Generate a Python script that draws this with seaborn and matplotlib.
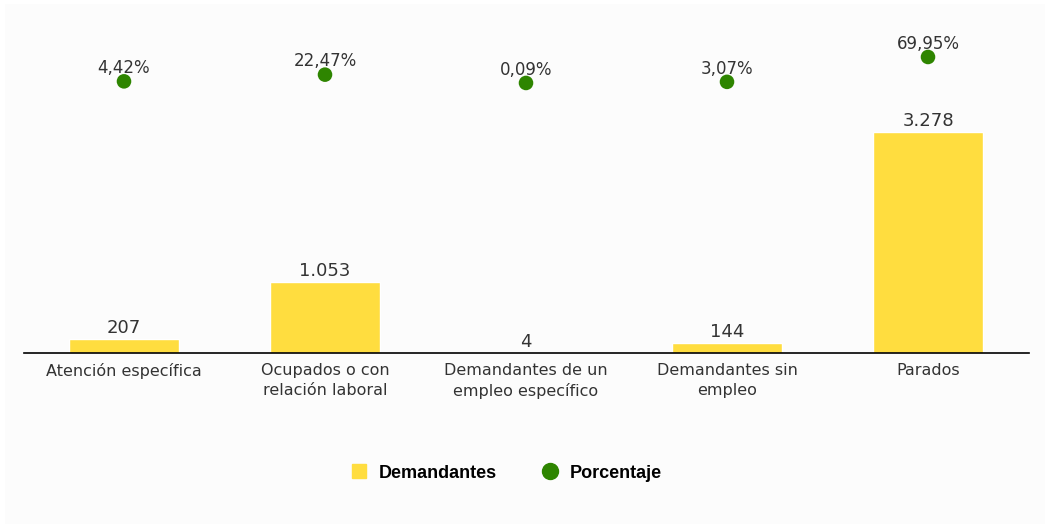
import matplotlib
matplotlib.use("Agg")
import matplotlib.pyplot as plt
from matplotlib.lines import Line2D
from matplotlib.patches import Rectangle
import seaborn as sns

# data
categorias = ["Atención específica", "Ocupados o con\nrelación laboral",
              "Demandantes de un\nempleo específico", "Demandantes sin\nempleo", "Parados"]
demandantes = [207, 1053, 4, 144, 3278]
porcentaje = [4.42, 22.47, 0.09, 3.07, 69.95]

amarillo = "#FFDD3F"
verde = "#2E8500"
gris = "#333333"

sns.set_style("white")
plt.rcParams["font.family"] = ["DejaVu Sans"]

fig = plt.figure(figsize=(10.5, 5.25), dpi=100, facecolor="white")
fig.patches.append(Rectangle((5 / 1050, 1 / 525), 1040 / 1050, 520 / 525,
                             transform=fig.transFigure, facecolor="#FCFCFC",
                             edgecolor="none", zorder=-10))
ax = fig.add_axes([23.5 / 1050, 1 - 353 / 525, 1005 / 1050, 323 / 525])
ax.set_facecolor("none")

sns.barplot(x=categorias, y=demandantes, color=amarillo, width=0.55,
            saturation=1, ax=ax)
ax.set_ylim(0, 4791)
ax.set_xlim(-0.5, len(categorias) - 0.5)
for i, v in enumerate(demandantes):
    ax.annotate(f"{v:,}".replace(",", "."), (i, v), xytext=(0, 1.5),
                textcoords="offset points", ha="center", va="bottom",
                fontsize=13, color=gris)

ax2 = ax.twinx()
sns.scatterplot(x=categorias, y=porcentaje, color=verde, s=110,
                edgecolor="none", ax=ax2, zorder=3)
ax2.set_ylim(-726, 142.5)
for i, p in enumerate(porcentaje):
    ax2.annotate(f"{p:.2f}".replace(".", ",") + "%", (i, p), xytext=(0, 3),
                 textcoords="offset points", ha="center", va="bottom",
                 fontsize=12, color=gris)

for a in (ax, ax2):
    a.set_yticks([])
    a.set_ylabel("")
    for s in ("top", "left", "right"):
        a.spines[s].set_visible(False)
    a.spines["bottom"].set_visible(a is ax)
ax.spines["bottom"].set_color("black")
ax.spines["bottom"].set_linewidth(1.2)
ax.tick_params(axis="x", length=0, pad=7, labelsize=11.5, labelcolor=gris)
for t in ax.get_xticklabels():
    t.set_linespacing(1.4)
ax2.tick_params(axis="x", length=0)

handles = [
    Line2D([], [], marker="s", linestyle="none", color=amarillo, markersize=9.5),
    Line2D([], [], marker="o", linestyle="none", color=verde, markersize=11.5),
]
leg = fig.legend(handles, ["Demandantes", "Porcentaje"], loc="center",
                 bbox_to_anchor=(506 / 1050, 1 - 473 / 525), ncol=2, frameon=False,
                 prop={"family": "Liberation Sans", "weight": "bold", "size": 13},
                 handletextpad=0.6, columnspacing=2.4, handlelength=1.0)
for t in leg.get_texts():
    t.set_color("black")

fig.savefig("out.png", dpi=100, facecolor=fig.get_facecolor())
